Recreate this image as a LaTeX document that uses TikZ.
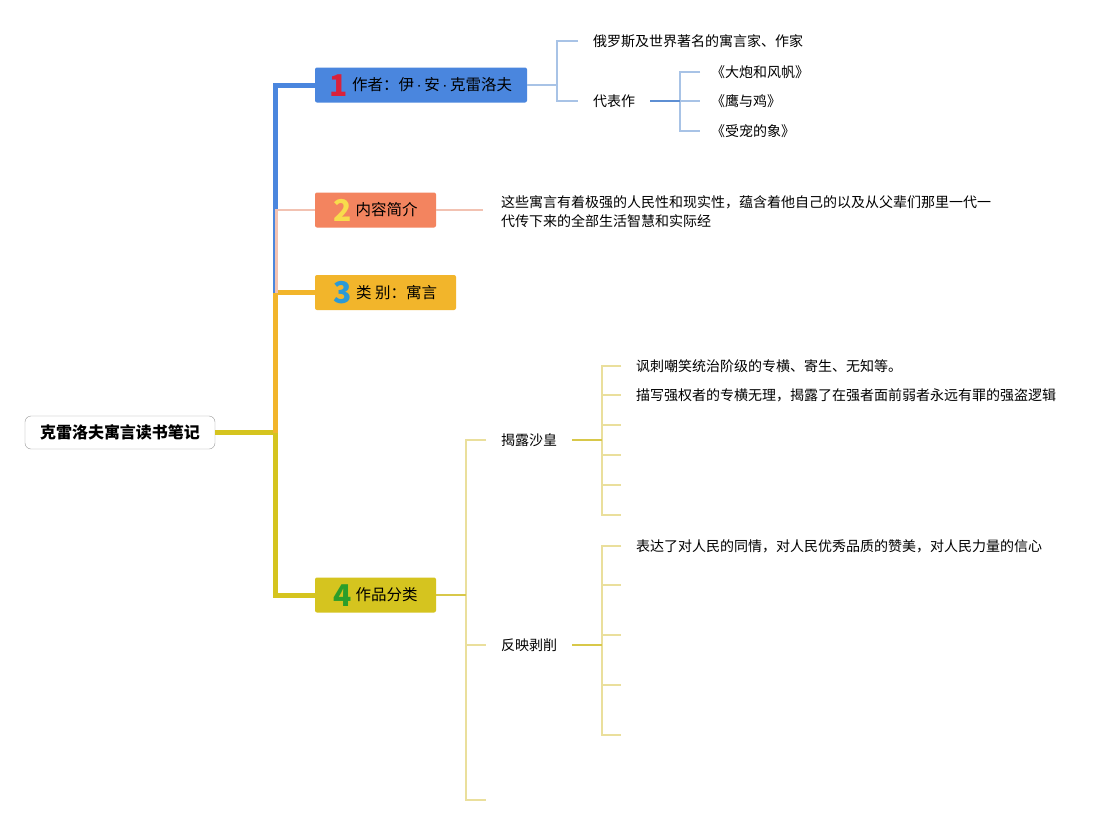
\documentclass[tikz,border=0pt]{standalone}
\usepackage{fontspec}
\setmainfont{Noto Sans CJK SC}
\newfontfamily\latinfont{Liberation Sans}
\definecolor{cblue}{HTML}{4A86DE}
\definecolor{csalmon}{HTML}{F3845F}
\definecolor{cpink}{HTML}{F2C2B2}
\definecolor{corange}{HTML}{F2B52B}
\definecolor{colive}{HTML}{D5C41F}
\definecolor{lblue}{HTML}{A8C3E6}
\definecolor{mblue}{HTML}{5E8FD3}
\definecolor{lolive}{HTML}{EADF9C}
\definecolor{molive}{HTML}{D8C84A}
\definecolor{numred}{HTML}{D9213B}
\definecolor{numyel}{HTML}{F8DC4C}
\definecolor{numblue}{HTML}{2B9AD6}
\definecolor{numgreen}{HTML}{2C9E2A}
\newcommand{\bignum}[2]{\smash{\raisebox{-5.5pt}{\color{#1}\fontsize{30}{30}\selectfont\bfseries #2}}\hspace{4pt}}
\newcommand{\mdot}{{\latinfont\,·\,}}

\begin{document}
\begin{tikzpicture}[x=1pt,y=-1pt,
  topic/.style={rectangle,rounded corners=2pt,minimum height=35pt,inner sep=0pt,font=\fontsize{15.5}{18}\selectfont},
  leaf/.style={anchor=west,inner xsep=15pt,inner ysep=2pt,align=left,font=\fontsize{14}{19}\selectfont},
  trunk/.style={line width=5pt},
  twig/.style={line width=1.6pt}]
  \useasboundingbox[fill=white] (0,0) rectangle (1117,825);
  \node[draw=black!40,rounded corners=6pt,minimum width=190pt,minimum height=33pt,font=\fontsize{16}{19}\selectfont\bfseries] (root) at (120,432.5) {克雷洛夫寓言读书笔记};
  \node[topic,fill=cblue,minimum width=212pt] (author) at (421,85) {\bignum{numred}{1}作者：伊\mdot 安\mdot 克雷洛夫};
  \node[topic,fill=csalmon,minimum width=121pt] (intro) at (375.5,210) {\bignum{numyel}{2}内容简介};
  \node[topic,fill=corange,minimum width=141pt] (genre) at (385.5,292.5) {\bignum{numblue}{3}类 别：寓言};
  \node[topic,fill=colive,minimum width=121pt] (works) at (375.5,595) {\bignum{numgreen}{4}作品分类};
  \coordinate (j0) at (275,432.5); \coordinate (j3) at (275,292.5);
  \draw[trunk,colive] (root.east) -- (j0) |- (works.west);
  \draw[trunk,corange] (j0) |- (genre.west);
  \draw[trunk,cblue] (j3) |- (author.west);
  \draw[line width=2.5pt,cpink] ([xshift=1.5pt]j3) |- (intro.west);

  \node[leaf] (famous) at (578,41) {俄罗斯及世界著名的寓言家、作家};
  \node[leaf] (rep) at (578,101) {代表作};
  \coordinate (b1) at (557,85);
  \draw[twig,lblue] (author.east) -- (b1) (famous.west) -| (b1) |- (rep.west);
  \node[leaf,inner xsep=11pt] (w1) at (700,72) {《大炮和风帆》};
  \node[leaf,inner xsep=11pt] (w2) at (700,101) {《鹰与鸡》};
  \node[leaf,inner xsep=11pt] (w3) at (700,131) {《受宠的象》};
  \coordinate (b2) at (680,101);
  \draw[twig,lblue] (w1.west) -| (b2) |- (w3.west) (b2) -- (w2.west);
  \draw[twig,mblue] (rep.east) -- (b2);

  \node[leaf,inner xsep=18pt] (gist) at (483,211.5) {这些寓言有着极强的人民性和现实性，蕴含着他自己的以及从父辈们那里一代一\\代传下来的全部生活智慧和实际经};
  \draw[twig,cpink] (intro.east) -- (intro.east -| gist.west);

  \node[leaf] (expose) at (486,440) {揭露沙皇};
  \node[leaf] (reflect) at (486,645) {反映剥削};
  \coordinate (b3) at (466,595); \coordinate (e0) at (486,800);
  \draw[twig,lolive] (expose.west) -| (b3) |- (e0) (b3) |- (reflect.west);
  \draw[twig,molive] (works.east) -- (b3);

  \node[leaf] (x1) at (621,366) {讽刺嘲笑统治阶级的专横、寄生、无知等。};
  \node[leaf] (x2) at (621,395) {描写强权者的专横无理，揭露了在强者面前弱者永远有罪的强盗逻辑};
  \coordinate (b4) at (602,440);
  \draw[twig,lolive] (x1.west) -| (b4) |- (x2.west);
  \foreach \y [count=\i] in {425,455,485,515} {\coordinate (xe\i) at (621,\y); \draw[twig,lolive] (b4) |- (xe\i);}
  \draw[twig,molive] (expose.east) -- (b4);

  \node[leaf] (r1) at (621,546) {表达了对人民的同情，对人民优秀品质的赞美，对人民力量的信心};
  \coordinate (b5) at (602,645);
  \draw[twig,lolive] (r1.west) -| (b5);
  \foreach \y [count=\i] in {585,635,685,735} {\coordinate (re\i) at (621,\y); \draw[twig,lolive] (b5) |- (re\i);}
  \draw[twig,molive] (reflect.east) -- (b5);
\end{tikzpicture}
\end{document}
